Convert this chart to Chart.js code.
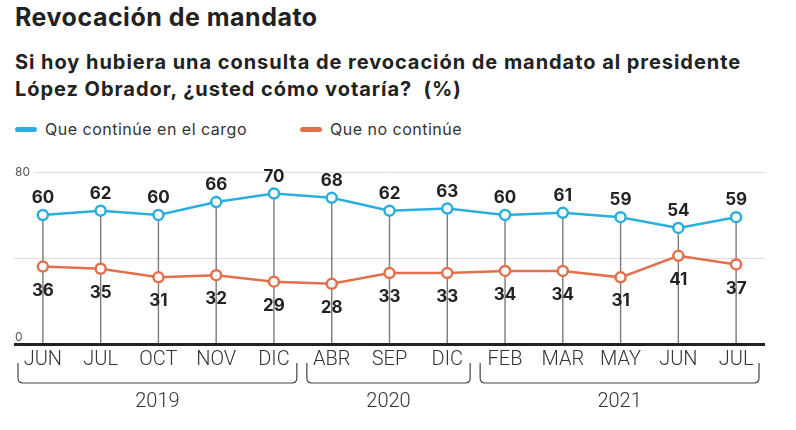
<!DOCTYPE html>
<html>
<head>
<meta charset="utf-8">
<script src="https://cdn.jsdelivr.net/npm/chart.js@4/dist/chart.umd.min.js"></script>
<style>
  html, body { margin:0; padding:0; background:#fff; }
  body { width:796px; height:430px; position:relative; overflow:hidden; font-family: Inter, "Noto Sans", sans-serif; color:#222; }
  #title { position:absolute; left:15px; top:2px; font-size:25px; line-height:30px; font-weight:700; color:#222; letter-spacing:0.5px; }
  #subtitle { position:absolute; left:15px; top:49px; font-size:20px; line-height:27px; font-weight:700; color:#222; white-space:nowrap; letter-spacing:0.95px; }
  .leg { position:absolute; top:119px; height:20px; display:flex; align-items:center; font-size:16px; color:#333; letter-spacing:0.5px; }
  .leg i { display:inline-block; width:22px; height:5px; border-radius:3px; margin-right:8px; }
  #wrap { position:absolute; left:0; top:150px; width:796px; height:280px; }
</style>
</head>
<body>
<div id="title">Revocación de mandato</div>
<div id="subtitle">Si hoy hubiera una consulta de revocación de mandato al presidente<br>López Obrador, ¿usted cómo votaría?&nbsp; (%)</div>
<div class="leg" style="left:15px"><i style="background:#2aaee0"></i>Que continúe en el cargo</div>
<div class="leg" style="left:300px"><i style="background:#e2704c"></i>Que no continúe</div>
<div id="wrap"><canvas id="c" width="796" height="280"></canvas></div>
<script>
const categories = ['JUN','JUL','OCT','NOV','DIC','ABR','SEP','DIC','FEB','MAR','MAY','JUN','JUL'];
const continueValues = [60,62,60,66,70,68,62,63,60,61,59,54,59];
const notContinueValues = [36,35,31,32,29,28,33,33,34,34,31,41,37];
const seriesNames = ['Que continúe en el cargo','Que no continúe'];
const yearLabels = ['2019','2020','2021'];
const yearStart = [0,5,8];
const yearEnd = [4,7,12];
const yTickLabels = [0,80];

const BLUE = '#2aaee0', ORANGE = '#e2704c';

const overlay = {
  id:'overlay',
  beforeDatasetsDraw(chart){
    const ctx = chart.ctx, x = chart.scales.x, y = chart.scales.y;
    ctx.save();
    ctx.strokeStyle = '#7a7a7a'; ctx.lineWidth = 1.4;
    continueValues.forEach((v,i)=>{
      const px = x.getPixelForValue(i);
      ctx.beginPath(); ctx.moveTo(px, y.getPixelForValue(v)); ctx.lineTo(px, y.getPixelForValue(0)-1); ctx.stroke();
    });
    ctx.restore();
  },
  afterDatasetsDraw(chart){
    const ctx = chart.ctx;
    ctx.save();
    ctx.font = '700 17px Inter, "Noto Sans", sans-serif';
    ctx.fillStyle = '#222'; ctx.textAlign = 'center'; ctx.textBaseline = 'middle';
    const m0 = chart.getDatasetMeta(0), m1 = chart.getDatasetMeta(1);
    continueValues.forEach((v,i)=>{ const p = m0.data[i]; ctx.fillText(String(v), p.x, p.y - 17); });
    notContinueValues.forEach((v,i)=>{ const p = m1.data[i]; ctx.fillText(String(v), p.x, p.y + 24); });
    ctx.restore();
  },
  afterDraw(chart){
    const ctx = chart.ctx, x = chart.scales.x, y = chart.scales.y, area = chart.chartArea;
    ctx.save();
    ctx.font = '12px Inter, "Noto Sans", sans-serif';
    ctx.textAlign = 'left'; ctx.textBaseline = 'middle';
    yTickLabels.forEach(v=>{
      const py = y.getPixelForValue(v);
      if (v !== 0) { ctx.fillStyle = '#fff'; ctx.fillRect(area.left, py-4, 20, 8); }
      ctx.fillStyle = '#555';
      ctx.fillText(String(v), area.left+1, v === 0 ? py-7 : py);
    });
    const half = (x.getPixelForValue(1) - x.getPixelForValue(0))/2;
    const top = area.bottom + 19, bot = area.bottom + 39, r = 5;
    ctx.strokeStyle = '#444'; ctx.lineWidth = 1.2;
    ctx.font = '300 20px Roboto, "Noto Sans", sans-serif';
    ctx.textAlign = 'center'; ctx.fillStyle = '#333';
    yearLabels.forEach((lab,k)=>{
      const l = x.getPixelForValue(yearStart[k]) - half + 4;
      const rr = Math.min(x.getPixelForValue(yearEnd[k]) + half - 6, area.right);
      ctx.beginPath();
      ctx.moveTo(l, top);
      ctx.lineTo(l, bot - r);
      ctx.quadraticCurveTo(l, bot, l + r, bot);
      ctx.lineTo(rr - r, bot);
      ctx.quadraticCurveTo(rr, bot, rr, bot - r);
      ctx.lineTo(rr, top);
      ctx.stroke();
      ctx.fillText(lab, (l+rr)/2, bot + 19);
    });
    ctx.restore();
  }
};

new Chart(document.getElementById('c'), {
  type:'line',
  data:{
    labels: categories,
    datasets:[
      { label: seriesNames[0], data: continueValues, borderColor: BLUE, backgroundColor:'#fff', borderWidth:2.5,
        pointRadius:5, pointBorderWidth:2.5, pointBackgroundColor:'#fff', pointBorderColor: BLUE, tension:0 },
      { label: seriesNames[1], data: notContinueValues, borderColor: ORANGE, backgroundColor:'#fff', borderWidth:2.5,
        pointRadius:5, pointBorderWidth:2.5, pointBackgroundColor:'#fff', pointBorderColor: ORANGE, tension:0 }
    ]
  },
  options:{
    responsive:false, animation:false, devicePixelRatio:1,
    layout:{ padding:{ left:14, right:31, top:22, bottom:0 } },
    plugins:{ legend:{ display:false }, tooltip:{ enabled:false } },
    scales:{
      x:{
        offset:true,
        grid:{ display:false, drawTicks:false },
        border:{ display:false },
        ticks:{ autoSkip:false, maxRotation:0, padding:4, color:'#333', font:{ family:'Roboto, "Noto Sans", sans-serif', size:20, weight:'300' } },
        afterFit(s){ s.height = 86; }
      },
      y:{
        min:0, max:80,
        ticks:{ display:false, stepSize:40 },
        border:{ display:false },
        grid:{
          drawTicks:false,
          color: c => c.tick && c.tick.value === 0 ? '#222' : '#dcdcdc',
          lineWidth: c => c.tick && c.tick.value === 0 ? 3 : 1
        },
        afterFit(s){ s.width = 0; }
      }
    }
  },
  plugins:[overlay]
});
</script>
</body>
</html>
